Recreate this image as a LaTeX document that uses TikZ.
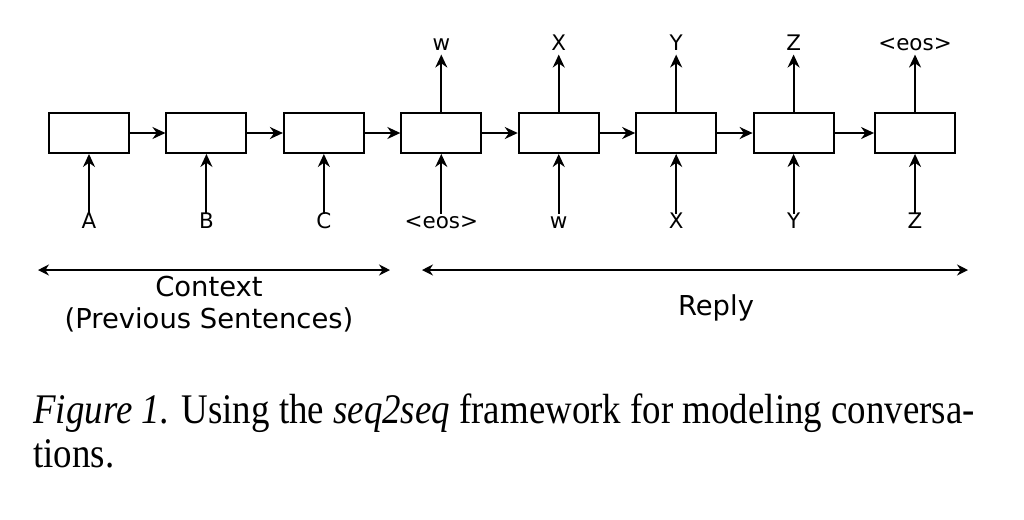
\documentclass[tikz,border=0pt]{standalone}
\usepackage{fontspec}
\setmainfont{Liberation Serif}
\newfontfamily\diagfont{DejaVu Sans}
\usetikzlibrary{arrows.meta,positioning}

\begin{document}
\begin{tikzpicture}[
    node distance=0.71cm,
    cell/.style={rectangle, draw, line width=1.1pt, minimum width=1.6cm, minimum height=0.8cm, inner sep=0pt},
    token/.style={font=\diagfont\fontsize{12.2}{14}\selectfont, inner sep=1pt, text height=1.6ex, text depth=0.3ex},
    arr/.style={-{Stealth[length=2.6mm, width=2.4mm]}, line width=1.1pt},
    span/.style={{Stealth[length=2.2mm, width=2.2mm]}-{Stealth[length=2.2mm, width=2.2mm]}, line width=0.9pt},
    side/.style={font=\diagfont\fontsize{15.6}{18}\selectfont, align=center, anchor=base},
    caption/.style={font=\fontsize{24}{22}\selectfont, anchor=base west, inner sep=0pt}
]
    \useasboundingbox (0,0) rectangle (20.48,-10.38);

    % Recurrent cells
    \node[cell] (c1) at (1.78,-2.66) {};
    \node[cell, right=of c1] (c2) {};
    \node[cell, right=of c2] (c3) {};
    \node[cell, right=of c3] (c4) {};
    \node[cell, right=of c4] (c5) {};
    \node[cell, right=of c5] (c6) {};
    \node[cell, right=of c6] (c7) {};
    \node[cell, right=0.79cm of c7] (c8) {};

    % Inputs
    \node[token, below=1.2cm of c1] (i1) {A};
    \node[token, below=1.2cm of c2] (i2) {B};
    \node[token, below=1.2cm of c3] (i3) {C};
    \node[token, below=1.2cm of c4] (i4) {<eos>};
    \node[token, below=1.2cm of c5] (i5) {w};
    \node[token, below=1.2cm of c6] (i6) {X};
    \node[token, below=1.2cm of c7] (i7) {Y};
    \node[token, below=1.2cm of c8] (i8) {Z};

    % Outputs
    \node[token, above=1.15cm of c4] (o4) {w};
    \node[token, above=1.15cm of c5] (o5) {X};
    \node[token, above=1.15cm of c6] (o6) {Y};
    \node[token, above=1.15cm of c7] (o7) {Z};
    \node[token, above=1.15cm of c8] (o8) {<eos>};

    % Arrows
    \draw[arr] (c1) -- (c2);
    \draw[arr] (c2) -- (c3);
    \draw[arr] (c3) -- (c4);
    \draw[arr] (c4) -- (c5);
    \draw[arr] (c5) -- (c6);
    \draw[arr] (c6) -- (c7);
    \draw[arr] (c7) -- (c8);
    \draw[arr] (i1) -- (c1);
    \draw[arr] (i2) -- (c2);
    \draw[arr] (i3) -- (c3);
    \draw[arr] (i4) -- (c4);
    \draw[arr] (i5) -- (c5);
    \draw[arr] (i6) -- (c6);
    \draw[arr] (i7) -- (c7);
    \draw[arr] (i8) -- (c8);
    \draw[arr] (c4) -- (o4);
    \draw[arr] (c5) -- (o5);
    \draw[arr] (c6) -- (o6);
    \draw[arr] (c7) -- (o7);
    \draw[arr] (c8) -- (o8);

    % Spans
    \coordinate (ctxl) at (0.76,-5.4);
    \coordinate (ctxr) at (7.80,-5.4);
    \coordinate (repl) at (8.44,-5.4);
    \coordinate (repr) at (19.36,-5.4);
    \draw[span] (ctxl) -- (ctxr);
    \draw[span] (repl) -- (repr);
    \node[side] (ctx) at (4.18,-6.56) {Context\\(Previous Sentences)};
    \node[side] (reply) at (14.32,-6.3) {Reply};

    % Caption
    \node[caption] (cap1) at (0.66,-8.46)
        {\scalebox{0.875}[1]{\textit{Figure 1.} Using the \textit{seq2seq} framework for modeling conversa-}};
    \node[caption] (cap2) at (0.66,-9.34) {\scalebox{0.875}[1]{tions.}};
\end{tikzpicture}
\end{document}
